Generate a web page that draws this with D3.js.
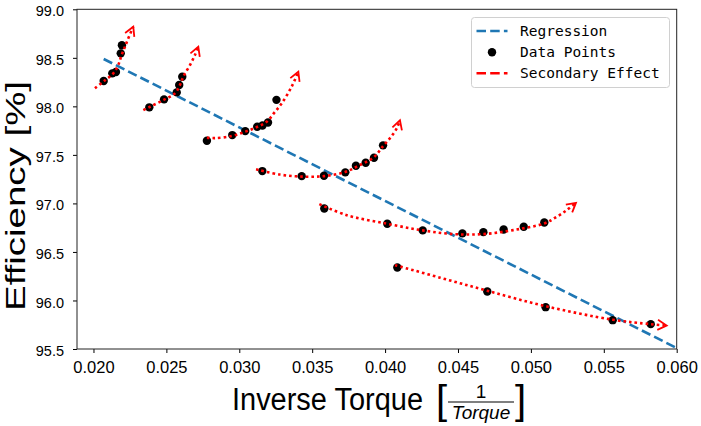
<!DOCTYPE html>
<html>
<head>
<meta charset="utf-8">
<script src="https://cdn.jsdelivr.net/npm/d3@7"></script>
<style>
  body { margin: 0; background: #fff; }
  svg { display: block; }
</style>
</head>
<body>
<svg id="svg" width="701" height="426"></svg>
<script>
// measured points, one array per torque group
var group1 = [[0.02070, 98.261], [0.02129, 98.340], [0.02154, 98.354], [0.02187, 98.546], [0.02195, 98.629]];
var group2 = [[0.02383, 97.990], [0.02484, 98.072], [0.02571, 98.144], [0.02588, 98.220], [0.02609, 98.305]];
var group3 = [[0.02778, 97.645], [0.02952, 97.704], [0.03041, 97.745], [0.03123, 97.790], [0.03159, 97.802], [0.03197, 97.833], [0.03255, 98.067]];
var group4 = [[0.03158, 97.333], [0.03428, 97.281], [0.03581, 97.285], [0.03727, 97.320], [0.03800, 97.388], [0.03867, 97.419], [0.03924, 97.470], [0.03986, 97.598]];
var group5 = [[0.03583, 96.948], [0.04015, 96.790], [0.04258, 96.722], [0.04530, 96.691], [0.04674, 96.704], [0.04813, 96.732], [0.04951, 96.759], [0.05092, 96.804]];
var group6 = [[0.04084, 96.340], [0.04701, 96.093], [0.05101, 95.931], [0.05561, 95.797], [0.05822, 95.756]];

// secondary effect curves
var curve1 = [[0.02010, 98.186], [0.02079, 98.268], [0.02136, 98.340], [0.02170, 98.426], [0.02193, 98.529], [0.02216, 98.614], [0.02239, 98.701], [0.02273, 98.821]];
var curve2 = [[0.02342, 97.962], [0.02388, 97.996], [0.02479, 98.065], [0.02559, 98.134], [0.02593, 98.220], [0.02616, 98.305], [0.02662, 98.426], [0.02696, 98.529], [0.02719, 98.614]];
var curve3 = [[0.02778, 97.678], [0.02833, 97.673], [0.02948, 97.694], [0.03039, 97.738], [0.03121, 97.787], [0.03188, 97.841], [0.03238, 97.931], [0.03291, 98.031], [0.03359, 98.202], [0.03405, 98.357]];
var curve4 = [[0.03115, 97.351], [0.03279, 97.297], [0.03430, 97.276], [0.03581, 97.281], [0.03725, 97.323], [0.03827, 97.395], [0.03924, 97.477], [0.03986, 97.591], [0.04034, 97.673], [0.04080, 97.773], [0.04102, 97.856]];
var curve5 = [[0.03549, 96.993], [0.03737, 96.879], [0.04015, 96.790], [0.04258, 96.722], [0.04468, 96.684], [0.04674, 96.684], [0.04879, 96.725], [0.05092, 96.794], [0.05177, 96.862], [0.05246, 96.931], [0.05309, 97.006]];
var curve6 = [[0.04068, 96.364], [0.04377, 96.235], [0.04699, 96.101], [0.05101, 95.941], [0.05561, 95.802], [0.05822, 95.756], [0.05931, 95.742]];

var regressionX = [0.0207, 0.060];
var regressionY = [98.488, 95.51];

var xTicks = [0.020, 0.025, 0.030, 0.035, 0.040, 0.045, 0.050, 0.055, 0.060];
var yTicks = [95.5, 96.0, 96.5, 97.0, 97.5, 98.0, 98.5, 99.0];
var legendLabels = ['Regression', 'Data Points', 'Secondary Effect'];

var groups = [group1, group2, group3, group4, group5, group6];
var curves = [curve1, curve2, curve3, curve4, curve5, curve6];

var plotLeft = 77, plotRight = 676.7, plotTop = 9.3, plotBottom = 349;

var svg = d3.select('svg');

var x = d3.scaleLinear().domain([0.01887, 0.060]).range([plotLeft, plotRight]);
var y = d3.scaleLinear().domain([95.5, 99.0]).range([plotBottom, plotTop]);

svg.append('defs').append('marker')
    .attr('id', 'arrow')
    .attr('markerUnits', 'userSpaceOnUse')
    .attr('viewBox', '-12 -8 16 16')
    .attr('markerWidth', 16)
    .attr('markerHeight', 16)
    .attr('refX', 0)
    .attr('refY', 0)
    .attr('orient', 'auto')
    .append('path')
    .attr('d', 'M-9,-5 L0,0 L-9,5')
    .attr('fill', 'none')
    .attr('stroke', 'red')
    .attr('stroke-width', 1.8);

// regression line
var line = d3.line()
    .x(function (d) { return x(d[0]); })
    .y(function (d) { return y(d[1]); });

svg.append('path')
    .attr('d', line(d3.zip(regressionX, regressionY)))
    .attr('fill', 'none')
    .attr('stroke', '#1f77b4')
    .attr('stroke-width', 2.6)
    .attr('stroke-dasharray', '9.5,4.2');

// data points
svg.selectAll('circle.pt')
    .data(d3.merge(groups))
    .enter()
    .append('circle')
    .attr('class', 'pt')
    .attr('cx', function (d) { return x(d[0]); })
    .attr('cy', function (d) { return y(d[1]); })
    .attr('r', 4.2)
    .attr('fill', 'black');

// secondary effect curves
var smooth = d3.line()
    .x(function (d) { return x(d[0]); })
    .y(function (d) { return y(d[1]); })
    .curve(d3.curveCatmullRom);

svg.selectAll('path.curve')
    .data(curves)
    .enter()
    .append('path')
    .attr('class', 'curve')
    .attr('d', smooth)
    .attr('fill', 'none')
    .attr('stroke', 'red')
    .attr('stroke-width', 2.6)
    .attr('stroke-dasharray', '2.6,3')
    .attr('marker-end', 'url(#arrow)');

// axes
var xAxis = svg.append('g')
    .attr('transform', 'translate(0,' + plotBottom + ')')
    .call(d3.axisBottom(x).tickValues(xTicks).tickFormat(d3.format('.3f')).tickSize(4).tickPadding(8));
xAxis.selectAll('text').attr('font-family', 'Liberation Sans, Arial, sans-serif').attr('font-size', 16.5).attr('fill', 'black');

var yAxis = svg.append('g')
    .attr('transform', 'translate(' + plotLeft + ',0)')
    .call(d3.axisLeft(y).tickValues(yTicks).tickFormat(d3.format('.1f')).tickSize(4).tickPadding(9));
yAxis.selectAll('text').attr('font-family', 'Liberation Sans, Arial, sans-serif').attr('font-size', 14.5).attr('fill', 'black').attr('dy', '0.45em');

svg.selectAll('.domain').remove();
svg.selectAll('.tick line').attr('stroke', 'black').attr('stroke-width', 1);

svg.append('rect')
    .attr('x', plotLeft)
    .attr('y', plotTop)
    .attr('width', plotRight - plotLeft)
    .attr('height', plotBottom - plotTop)
    .attr('fill', 'none')
    .attr('stroke', '#222')
    .attr('stroke-width', 1);

// axis titles
svg.append('text')
    .text('Efficiency [%]')
    .attr('transform', 'translate(25,196) rotate(-90)')
    .attr('text-anchor', 'middle')
    .attr('font-family', 'Liberation Sans, Arial, sans-serif')
    .attr('font-size', 27)
    .attr('textLength', 230)
    .attr('lengthAdjust', 'spacingAndGlyphs');

svg.append('text')
    .text('Inverse Torque')
    .attr('x', 232)
    .attr('y', 410)
    .attr('font-family', 'Liberation Sans, Arial, sans-serif')
    .attr('font-size', 31)
    .attr('textLength', 191)
    .attr('lengthAdjust', 'spacingAndGlyphs');

var frac = svg.append('g').attr('font-family', 'Liberation Sans, Arial, sans-serif');
frac.append('text').text('[').attr('x', 436).attr('y', 414).attr('font-size', 40);
frac.append('text').text(']').attr('x', 515).attr('y', 414).attr('font-size', 40);
frac.append('text').text('1').attr('x', 481).attr('y', 398).attr('text-anchor', 'middle').attr('font-size', 19);
frac.append('line').attr('x1', 448).attr('x2', 514).attr('y1', 402).attr('y2', 402).attr('stroke', 'black').attr('stroke-width', 1.2);
frac.append('text').text('Torque').attr('x', 481).attr('y', 419).attr('text-anchor', 'middle').attr('font-size', 19).attr('font-style', 'italic');

// legend
var legend = svg.append('g').attr('transform', 'translate(471.5,17.5)');
legend.append('rect')
    .attr('width', 198)
    .attr('height', 70)
    .attr('rx', 3)
    .attr('fill', 'white')
    .attr('fill-opacity', 0.8)
    .attr('stroke', '#d0d0d0')
    .attr('stroke-width', 1);

legend.append('line')
    .attr('x1', 5).attr('x2', 36).attr('y1', 13.5).attr('y2', 13.5)
    .attr('stroke', '#1f77b4').attr('stroke-width', 2.6).attr('stroke-dasharray', '9.5,4.2');
legend.append('circle')
    .attr('cx', 20.5).attr('cy', 34.8).attr('r', 4.2).attr('fill', 'black');
legend.append('line')
    .attr('x1', 5).attr('x2', 36).attr('y1', 55.8).attr('y2', 55.8)
    .attr('stroke', 'red').attr('stroke-width', 2.6).attr('stroke-dasharray', '9.5,4.2');

legend.selectAll('text')
    .data(legendLabels)
    .enter()
    .append('text')
    .text(function (d) { return d; })
    .attr('x', 48.5)
    .attr('y', function (d, i) { return 13.5 + i * 21.2 + 5; })
    .attr('font-family', 'DejaVu Sans Mono, monospace')
    .attr('font-size', 14.5)
    .attr('fill', 'black');
</script>
</body>
</html>
